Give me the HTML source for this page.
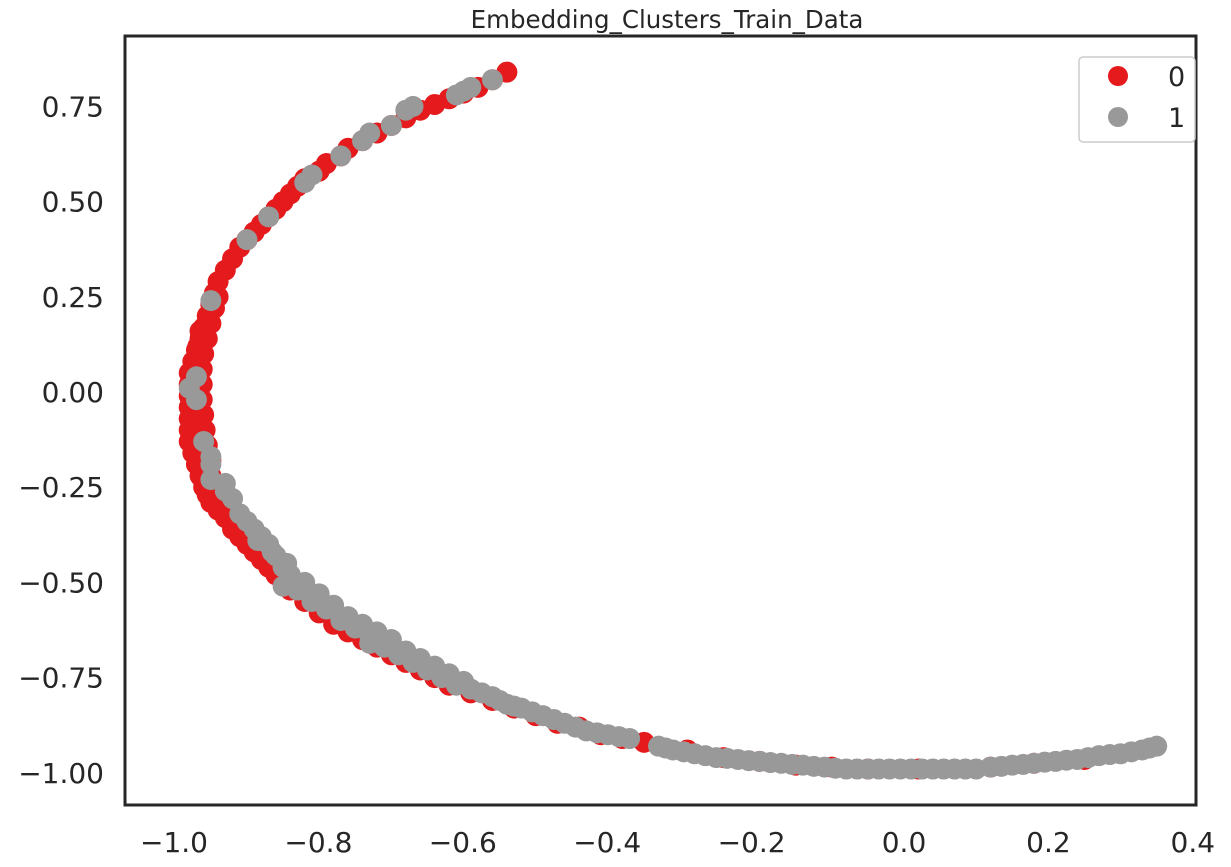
<!DOCTYPE html>
<html><head><meta charset="utf-8"><style>
body{margin:0;background:#fff;}
svg{display:block;font-family:"DejaVu Sans","Liberation Sans",sans-serif;}
</style></head><body>
<svg id="chart" width="1231" height="867">
<text x="667" y="28" text-anchor="middle" font-size="24.5" fill="#262626">Embedding_Clusters_Train_Data</text>
<g id="marks"></g>
<rect x="125" y="36" width="1071" height="769" fill="none" stroke="#262626" stroke-width="3"/>
<g id="xticks"></g>
<g id="yticks"></g>
<g>
<rect x="1079" y="57" width="116" height="85" rx="4" fill="#fff" stroke="#ccc" stroke-width="1.5"/>
<circle cx="1118" cy="76" r="10" fill="#e41a1c"/>
<text x="1168" y="86" font-size="27" fill="#262626">0</text>
<circle cx="1118" cy="117" r="10" fill="#999999"/>
<text x="1168" y="127" font-size="27" fill="#262626">1</text>
</g>
</svg>
<script>
const xTicks=[-1.0,-0.8,-0.6,-0.4,-0.2,0.0,0.2,0.4];
const xTickLabels=["\u22121.0","\u22120.8","\u22120.6","\u22120.4","\u22120.2","0.0","0.2","0.4"];
const yTicks=[0.75,0.5,0.25,0,-0.25,-0.5,-0.75,-1.0];
const yTickLabels=["0.75","0.50","0.25","0.00","\u22120.25","\u22120.50","\u22120.75","\u22121.00"];
const redX=[-0.55,-0.57,-0.59,-0.61,-0.63,-0.65,-0.67,-0.69,-0.71,-0.73,-0.75,-0.77,-0.78,-0.80,-0.81,-0.83,-0.84,-0.85,-0.86,-0.87,-0.88,-0.89,-0.90,-0.91,-0.92,-0.93,-0.94,-0.95,-0.955,-0.96,-0.965,-0.97,-0.975,-0.98,-0.985,-0.99,-0.99,-0.99,-0.99,-0.99,-0.99,-0.99,-0.985,-0.98,-0.975,-0.97,-0.965,-0.96,-0.95,-0.94,-0.93,-0.92,-0.91,-0.90,-0.89,-0.88,-0.87,-0.86,-0.85,-0.83,-0.81,-0.79,-0.77,-0.75,-0.73,-0.71,-0.69,-0.67,-0.65,-0.63,-0.60,-0.57,-0.54,-0.51,-0.48,-0.45,-0.42,-0.39,-0.36,-0.30,-0.25,-0.20,-0.15,-0.10,-0.05,0.02,0.12,0.18,0.25,
-0.95,-0.955,-0.96,-0.965,-0.97,-0.972,-0.972,-0.972,-0.97,-0.968,-0.965,-0.96,-0.975,-0.978,-0.98,-0.982,-0.982,-0.98,-0.978,-0.972,-0.96];
const redY=[0.84,0.82,0.80,0.785,0.77,0.755,0.74,0.72,0.70,0.68,0.66,0.64,0.62,0.60,0.58,0.56,0.54,0.52,0.50,0.48,0.46,0.44,0.42,0.40,0.38,0.35,0.32,0.29,0.26,0.23,0.20,0.17,0.14,0.11,0.08,0.05,0.02,-0.01,-0.04,-0.07,-0.10,-0.13,-0.16,-0.19,-0.22,-0.25,-0.27,-0.29,-0.31,-0.33,-0.36,-0.38,-0.40,-0.42,-0.44,-0.46,-0.48,-0.50,-0.52,-0.55,-0.58,-0.61,-0.63,-0.65,-0.67,-0.69,-0.71,-0.73,-0.75,-0.77,-0.79,-0.81,-0.83,-0.85,-0.87,-0.88,-0.90,-0.91,-0.92,-0.94,-0.96,-0.97,-0.98,-0.985,-0.99,-0.99,-0.985,-0.975,-0.965,
0.25,0.22,0.18,0.14,0.10,0.06,0.02,-0.02,-0.06,-0.10,-0.14,-0.18,0.16,0.12,0.08,0.04,0.00,-0.04,-0.10,-0.16,-0.22];
const greyX=[-0.57,-0.60,-0.61,-0.62,-0.68,-0.69,-0.71,-0.74,-0.75,-0.78,-0.82,-0.83,-0.88,-0.91,-0.96,-0.98,-0.99,-0.98,-0.97,-0.96,-0.96,-0.96,-0.94,-0.94,-0.93,-0.92,-0.91,-0.90,-0.89,-0.88,-0.87,-0.86,-0.85,-0.86,-0.84,-0.82,-0.80,-0.78,-0.76,-0.74,-0.74,-0.72,-0.70,-0.68,-0.66,-0.64,-0.62,-0.60,-0.57,-0.55,-0.53,-0.50,-0.47,-0.44,-0.41,-0.38,-0.34,-0.32,-0.29,-0.26,-0.23,-0.20,-0.17,-0.14,-0.11,-0.08,-0.05,-0.02,0.01,0.04,0.07,0.10,0.12,0.15,0.18,0.21,0.24,0.27,0.30,0.33,0.35,
-0.895,-0.875,-0.855,-0.83,-0.81,-0.79,-0.77,-0.75,-0.73,-0.71,-0.69,-0.67,-0.65,-0.63,-0.61,-0.585,-0.56,-0.54,-0.515,-0.485,-0.455,-0.425,-0.395,-0.33,-0.305,-0.275,-0.245,-0.215,-0.185,-0.155,-0.125,-0.095,-0.065,-0.035,-0.005,0.025,0.055,0.085,0.135,0.165,0.195,0.225,0.255,0.285,0.315,0.34];
const greyY=[0.82,0.80,0.79,0.78,0.75,0.74,0.70,0.68,0.66,0.62,0.57,0.55,0.46,0.40,0.24,0.04,0.01,-0.02,-0.13,-0.17,-0.19,-0.23,-0.24,-0.26,-0.28,-0.32,-0.34,-0.36,-0.38,-0.40,-0.43,-0.46,-0.48,-0.51,-0.52,-0.55,-0.57,-0.60,-0.62,-0.64,-0.66,-0.67,-0.69,-0.71,-0.73,-0.75,-0.77,-0.78,-0.80,-0.82,-0.83,-0.85,-0.87,-0.89,-0.90,-0.91,-0.93,-0.94,-0.95,-0.96,-0.965,-0.97,-0.975,-0.98,-0.985,-0.99,-0.99,-0.99,-0.99,-0.99,-0.99,-0.99,-0.985,-0.98,-0.975,-0.97,-0.965,-0.955,-0.95,-0.94,-0.93,
-0.39,-0.42,-0.45,-0.50,-0.53,-0.56,-0.59,-0.61,-0.63,-0.65,-0.68,-0.70,-0.72,-0.74,-0.76,-0.79,-0.81,-0.825,-0.84,-0.86,-0.88,-0.895,-0.905,-0.935,-0.945,-0.955,-0.962,-0.968,-0.973,-0.978,-0.983,-0.988,-0.99,-0.99,-0.99,-0.99,-0.99,-0.99,-0.983,-0.978,-0.972,-0.967,-0.96,-0.952,-0.945,-0.935];
const NS="http://www.w3.org/2000/svg";
function xs(v){return 904+v*722;}
function ys(v){return 392-v*380.8;}
const marks=document.getElementById('marks');
function dot(x,y,c,name){
  const e=document.createElementNS(NS,'circle');
  e.setAttribute('cx',xs(x));e.setAttribute('cy',ys(y));e.setAttribute('r',10.5);e.setAttribute('fill',c);
  
  
  marks.appendChild(e);
}
for(let i=0;i<redX.length;i++) dot(redX[i],redY[i],'#e41a1c','point-cluster-0');
for(let i=0;i<greyX.length;i++) dot(greyX[i],greyY[i],'#999999','point-cluster-1');
const xt=document.getElementById('xticks');
xTicks.forEach((v,i)=>{
  const t=document.createElementNS(NS,'text');
  t.setAttribute('x',xs(v)-(v<0?8:0));t.setAttribute('y',852);t.setAttribute('text-anchor','middle');
  t.setAttribute('font-size','28');t.setAttribute('fill','#262626');t.textContent=xTickLabels[i];
  
  
  xt.appendChild(t);
});
const yt=document.getElementById('yticks');
yTicks.forEach((v,i)=>{
  const t=document.createElementNS(NS,'text');
  t.setAttribute('x',104);t.setAttribute('y',ys(v)+10);t.setAttribute('text-anchor','end');
  t.setAttribute('font-size','28');t.setAttribute('fill','#262626');t.textContent=yTickLabels[i];
  
  
  yt.appendChild(t);
});
</script>
</body></html>
